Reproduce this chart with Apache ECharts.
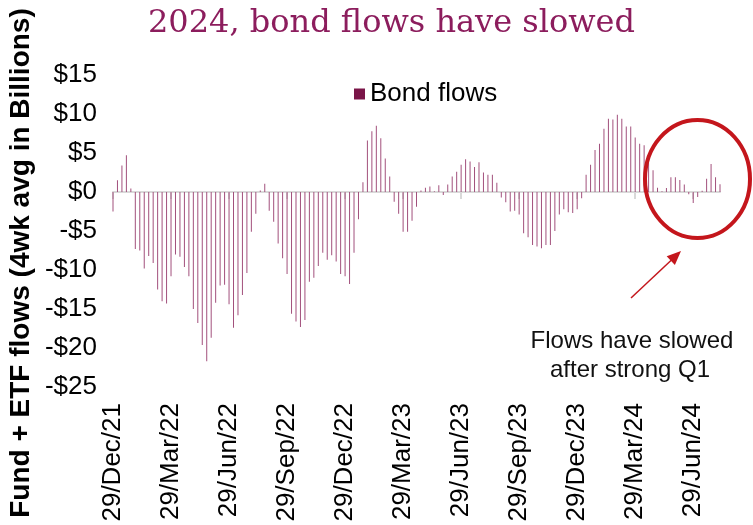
<!DOCTYPE html>
<html>
<head>
<meta charset="utf-8">
<script src="https://cdn.jsdelivr.net/npm/echarts@6/dist/echarts.min.js"></script>
<style>
html,body{margin:0;padding:0;background:#fff;}
#chart{width:753px;height:525px;}
</style>
</head>
<body>
<div id="chart"></div>
<script>
// ---- data ----
const titleText = '2024, bond flows have slowed';
const yAxisTitle = 'Fund + ETF flows (4wk avg in Billions)';
const seriesName = 'Bond flows';
const tickLabels = ['29/Dec/21','29/Mar/22','29/Jun/22','29/Sep/22','29/Dec/22','29/Mar/23','29/Jun/23','29/Sep/23','29/Dec/23','29/Mar/24','29/Jun/24'];
const annotationLines = ['Flows have slowed', 'after strong Q1'];
const bondFlows = [
  -2.5, 1.5, 3.4, 4.7, 0.45, -7.3, -7.5, -9.8, -8.2, -9.1,
  -12.5, -14.0, -14.3, -10.8, -8.0, -8.3, -9.6, -10.8, -15.0, -16.8,
  -19.6, -21.7, -18.7, -14.2, -12.0, -11.9, -14.4, -17.4, -15.8, -13.2,
  -10.4, -5.1, -2.8, 0.2, 1.05, -2.4, -3.8, -6.6, -8.5, -10.5,
  -15.6, -16.6, -17.3, -16.4, -11.5, -11.0, -9.5, -7.8, -8.7, -8.1,
  -8.9, -10.5, -10.8, -11.8, -7.8, -3.5, 1.25, 6.6, 7.8, 8.5,
  6.9, 4.3, 2.0, -1.25, -2.8, -5.1, -5.1, -3.7, -1.9, 0.2,
  0.55, 0.7, 0.1, 0.85, -0.4, 0.95, 2.0, 2.6, 3.5, 4.2,
  3.9, 3.2, 3.8, 2.5, 2.2, 2.2, 1.2, -0.7, -1.3, -2.5,
  -2.4, -2.9, -5.3, -5.8, -6.8, -7.0, -7.2, -6.8, -6.8, -5.0,
  -2.9, -2.2, -2.6, -2.7, -2.2, -0.8, 2.2, 3.5, 5.4, 6.2,
  8.1, 9.4, 9.3, 9.9, 9.4, 8.4, 8.4, 7.0, 6.2, 6.0,
  4.5, 2.8, 0.55, 0.1, 0.5, 1.9, 1.9, 1.55, 0.95, -0.3,
  -1.4, -0.65, 0.15, 1.7, 3.6, 1.9, 1.0
];
const weeksPerTick = 13;

// weekly categories starting 29 Dec 2021
const startDate = new Date(Date.UTC(2021, 11, 29));
const weeks = bondFlows.map((_, i) => {
  const d = new Date(startDate.getTime() + i * 7 * 86400000);
  return d.toISOString().slice(0, 10);
});

const chart = echarts.init(document.getElementById('chart'), null, {renderer: 'canvas'});
const sans = '"Liberation Sans", Arial, sans-serif';
const red = '#c4161c';

chart.setOption({
  animation: false,
  backgroundColor: '#ffffff',
  grid: {left: 113, right: 33, top: 75, bottom: 138, containLabel: false},
  legend: {
    data: [{name: seriesName, itemStyle: {color: '#7a1548'}}],
    left: 349, top: 76,
    icon: 'rect', itemWidth: 11, itemHeight: 11, itemGap: 5,
    textStyle: {fontFamily: sans, fontSize: 26, color: '#000'}
  },
  xAxis: [
    {
      type: 'category', data: weeks, boundaryGap: false, position: 'bottom',
      axisLine: {show: false, onZero: false},
      axisTick: {show: false},
      splitLine: {show: false},
      axisLabel: {
        interval: weeksPerTick - 1, rotate: 90, margin: 16,
        fontFamily: sans, fontSize: 26, color: '#000',
        formatter: (v, i) => tickLabels[Math.round(i / weeksPerTick)] || ''
      }
    },
    {
      type: 'category', data: weeks, boundaryGap: false, position: 'bottom',
      axisLine: {show: true, onZero: true, lineStyle: {color: '#d9d9d9', width: 2}},
      axisTick: {show: true, interval: weeksPerTick - 1, length: 7, lineStyle: {color: '#d9d9d9', width: 2}},
      axisLabel: {show: false},
      splitLine: {show: false}
    }
  ],
  yAxis: {
    type: 'value', min: -25, max: 15, interval: 5,
    axisLine: {show: false}, axisTick: {show: false}, splitLine: {show: false},
    axisLabel: {
      margin: 16, fontFamily: sans, fontSize: 26, color: '#000',
      formatter: v => (v < 0 ? '-$' + (-v) : '$' + v)
    }
  },
  series: [{
    name: seriesName, type: 'bar', xAxisIndex: 1, data: bondFlows,
    barWidth: 1, clip: false,
    itemStyle: {color: '#a2507c'}
  }],
  graphic: [
    {
      type: 'text', left: 148, top: 8,
      style: {text: titleText, font: '32px "DejaVu Serif", serif', fill: '#8c1d5d'}
    },
    {
      type: 'text', x: 21, y: 263, rotation: Math.PI / 2,
      style: {text: yAxisTitle, font: 'bold 28px "Liberation Sans", Arial, sans-serif', fill: '#000',
        textAlign: 'center', textVerticalAlign: 'middle'}
    },
    {
      type: 'ellipse', shape: {cx: 697.5, cy: 179, rx: 52.5, ry: 59},
      style: {fill: 'none', stroke: red, lineWidth: 4}, z: 100
    },
    {
      type: 'line', shape: {x1: 631, y1: 298, x2: 672, y2: 259.5},
      style: {stroke: red, lineWidth: 1.5}, z: 100
    },
    {
      type: 'polygon', shape: {points: [[681, 251], [674.9, 265], [666.7, 256.2]]},
      style: {fill: red}, z: 100
    },
    {
      type: 'text', x: 632, y: 341,
      style: {text: annotationLines[0], font: '24px "Liberation Sans", Arial, sans-serif', fill: '#111',
        textAlign: 'center', textVerticalAlign: 'middle'}
    },
    {
      type: 'text', x: 630, y: 370,
      style: {text: annotationLines[1], font: '24px "Liberation Sans", Arial, sans-serif', fill: '#111',
        textAlign: 'center', textVerticalAlign: 'middle'}
    }
  ]
});
</script>
</body>
</html>
